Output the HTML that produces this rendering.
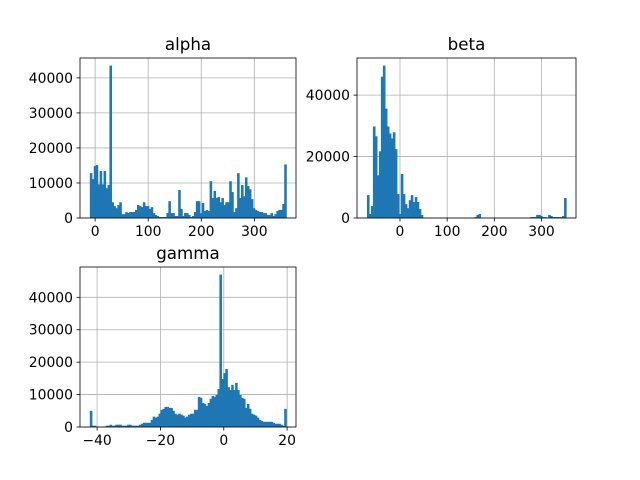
<!DOCTYPE html>
<html><head><meta charset="utf-8"><style>
body{margin:0;background:#fff}
svg{display:block;font-family:"DejaVu Sans","Liberation Sans",sans-serif}
</style></head><body>
<svg id="fig" width="640" height="480" viewBox="0 0 640 480"></svg>
<script>
const alphaCounts=[12800,11100,14800,15100,9600,13400,9600,13400,8500,9400,43500,4500,3400,2800,3700,4500,1100,1100,1700,1400,1700,1700,1700,2300,3700,3400,3100,4500,3400,3400,2600,3100,1400,850,570,280,280,280,280,1400,4800,1400,1400,570,570,8000,2600,570,1400,1400,850,280,570,1700,4800,4800,1400,4300,2000,2300,2000,10500,5700,7700,5700,6000,4500,5700,3700,4500,4500,10500,7400,1700,2800,12800,5700,9400,6200,11600,9100,8200,5400,2800,2300,2000,1700,1700,1400,1400,850,850,1400,570,1100,2000,2300,2300,4000,15300];
const betaCounts=[7450,1300,3900,29800,26600,13900,21700,46000,49600,35600,29800,27500,25900,27900,22400,7800,1300,14300,7800,4500,3200,5800,7450,5200,6800,5200,2900,1000,0,0,0,0,0,0,0,0,0,0,0,0,0,0,0,0,0,0,0,0,0,0,0,0,0,0,300,1000,1300,0,0,0,0,0,0,0,0,0,0,0,0,0,0,0,0,0,0,0,0,0,0,0,0,0,300,300,300,1000,1000,650,300,300,0,1000,650,300,300,300,300,300,650,6500];
const gammaCounts=[5000,400,400,100,100,100,100,100,400,400,700,400,400,700,700,700,400,400,400,700,700,400,400,400,400,700,1000,1300,1300,1300,1300,2200,3200,2900,3200,4100,5300,5600,6200,6200,5900,5900,5000,4100,3800,4100,3800,3500,2900,3200,3800,4100,4100,5300,5300,9300,9000,7400,7100,6500,7400,8700,9600,9300,9900,11700,47000,14800,16600,17900,12300,11400,13000,11400,13600,11400,9900,9000,8700,5900,7100,5600,4100,3800,3500,2900,2200,1900,1600,1600,1600,1600,1600,1300,1000,1000,1000,700,400,5600];
const alphaRange=[-10,360], betaRange=[-70,352], gammaRange=[-42.3,19.7];
const alphaXTicks=[0,100,200,300], betaXTicks=[0,100,200,300], gammaXTicks=[-40,-20,0,20];
const alphaYTicks=[0,10000,20000,30000,40000], betaYTicks=[0,20000,40000], gammaYTicks=[0,10000,20000,30000,40000];
const NS="http://www.w3.org/2000/svg", svg=document.getElementById('fig');
function mk(t,a,p){const e=document.createElementNS(NS,t);for(const k in a)e.setAttribute(k,a[k]);(p||svg).appendChild(e);return e;}
function panel(name,counts,range,xt,yt,L,T,W,H){
  const g=mk('g',{});
  
  
  const span=range[1]-range[0], x0=range[0]-0.05*span, x1=range[1]+0.05*span;
  const ymax=Math.max(...counts)*1.05;
  const X=v=>L+(v-x0)/(x1-x0)*W, Y=v=>T+H-v/ymax*H;
  const bw=span/counts.length;
  xt.forEach(v=>{const l=mk('line',{x1:X(v),x2:X(v),y1:T,y2:T+H,stroke:'#b0b0b0','stroke-width':0.8},g);
    });
  yt.forEach(v=>{const l=mk('line',{x1:L,x2:L+W,y1:Y(v),y2:Y(v),stroke:'#b0b0b0','stroke-width':0.8},g);
    });
  counts.forEach((c,i)=>{if(c<=0)return;
    const a=X(range[0]+i*bw), b=X(range[0]+(i+1)*bw);
    const r=mk('rect',{x:a,y:Y(c),width:b-a+0.6,height:T+H-Y(c),fill:'#1f77b4'},g);
    });
  const f=mk('rect',{x:L,y:T,width:W,height:H,fill:'none',stroke:'#000','stroke-width':0.8},g);
  
  xt.forEach(v=>{mk('line',{x1:X(v),x2:X(v),y1:T+H,y2:T+H+3.5,stroke:'#000','stroke-width':0.8},g);
    const t=mk('text',{x:X(v),y:T+H+18,'font-size':13.9,'text-anchor':'middle'},g);t.textContent=String(v).replace('-','−');
    });
  yt.forEach(v=>{mk('line',{x1:L-3.5,x2:L,y1:Y(v),y2:Y(v),stroke:'#000','stroke-width':0.8},g);
    const t=mk('text',{x:L-7,y:Y(v)+5,'font-size':13.9,'text-anchor':'end'},g);t.textContent=v;
    });
  const tt=mk('text',{x:L+W/2,y:T-8,'font-size':16.7,'text-anchor':'middle'},g);tt.textContent=name;
  
}
panel('alpha',alphaCounts,alphaRange,alphaXTicks,alphaYTicks,80,58,216,160);
panel('beta',betaCounts,betaRange,betaXTicks,betaYTicks,357,58,219,160);
panel('gamma',gammaCounts,gammaRange,gammaXTicks,gammaYTicks,80,267,216,160);
</script>
</body></html>
